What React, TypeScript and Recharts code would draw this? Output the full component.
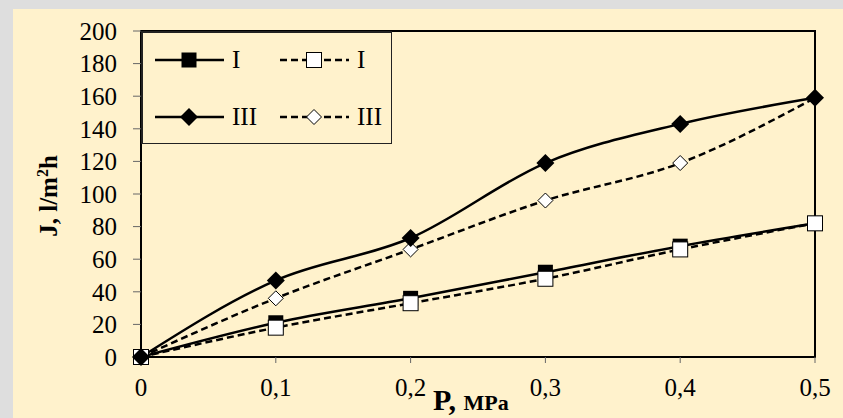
import {
  Legend,
  Line,
  LineChart,
  ReferenceArea,
  XAxis,
  YAxis,
} from "recharts";

const pressure = [0, 0.1, 0.2, 0.3, 0.4, 0.5];
const fluxISolid = [0, 21, 36, 52, 68, 82];
const fluxIDashed = [0, 18, 33, 48, 66, 82];
const fluxIIISolid = [0, 47, 73, 119, 143, 159];
const fluxIIIDashed = [0, 36, 66, 96, 119, 159];
const yTicks = [0, 20, 40, 60, 80, 100, 120, 140, 160, 180, 200];

const data = pressure.map((p, i) => ({
  p,
  i1: fluxISolid[i],
  i2: fluxIDashed[i],
  iii1: fluxIIISolid[i],
  iii2: fluxIIIDashed[i],
}));

const FONT = "'Liberation Serif', 'Times New Roman', serif";
const CREAM = "#FFF2CC";

type Shape = "sq" | "sqo" | "dm" | "dmo";

function Marker({ cx, cy, shape }: { cx: number; cy: number; shape: Shape }) {
  if (cx == null || cy == null) return null;
  if (shape === "sq") return <rect x={cx - 7.5} y={cy - 7.5} width={15} height={15} fill="#000" />;
  if (shape === "sqo")
    return <rect x={cx - 7.5} y={cy - 7.5} width={15} height={15} fill="#fff" stroke="#000" strokeWidth={1} />;
  if (shape === "dm") {
    const r = 9;
    return <polygon points={`${cx},${cy - r} ${cx + r},${cy} ${cx},${cy + r} ${cx - r},${cy}`} fill="#000" />;
  }
  const r = 7.5;
  return (
    <polygon
      points={`${cx},${cy - r} ${cx + r},${cy} ${cx},${cy + r} ${cx - r},${cy}`}
      fill="#fff"
      stroke="#000"
      strokeWidth={1}
    />
  );
}

const dot = (shape: Shape) => (props: any) => <Marker key={props.index} cx={props.cx} cy={props.cy} shape={shape} />;

const legendItems: { name: string; shape: Shape; dash?: string }[] = [
  { name: "I", shape: "sq" },
  { name: "I", shape: "sqo", dash: "7 4" },
  { name: "III", shape: "dm" },
  { name: "III", shape: "dmo", dash: "7 4" },
];

function LegendBox() {
  return (
    <div
      style={{
        width: 251,
        height: 113,
        boxSizing: "border-box",
        background: CREAM,
        borderStyle: "solid",
        borderColor: "#222",
        borderWidth: "2px 1px 1px 2px",
      }}
    >
      <svg width={249} height={111} style={{ display: "block" }}>
        {legendItems.map((it, i) => {
          const col = i % 2;
          const row = Math.floor(i / 2);
          const x0 = 12 + col * 125;
          const y = 27 + row * 57;
          return (
            <g key={i}>
              <line x1={x0} x2={x0 + 69} y1={y} y2={y} stroke="#000" strokeWidth={2.5} strokeDasharray={it.dash} />
              <Marker cx={x0 + 34} cy={y} shape={it.shape} />
              <text x={x0 + 77} y={y + 8} fontFamily={FONT} fontSize={25} fill="#000">
                {it.name}
              </text>
            </g>
          );
        })}
      </svg>
    </div>
  );
}

export default function App() {
  return (
    <div style={{ position: "absolute", left: 0, top: 0, width: 843, height: 418, background: "#DEDEDE" }}>
      <div style={{ position: "absolute", left: 13, top: 9, right: 0, bottom: 0, background: CREAM }} />
      <div style={{ position: "absolute", left: 0, top: 0 }}>
        <LineChart width={843} height={418} data={data} margin={{ top: 31, right: 28, bottom: 31, left: 81 }}>
          <ReferenceArea x1={0} x2={0.5} y1={0} y2={200} fill="none" stroke="#000" strokeWidth={2} />
          <XAxis
            dataKey="p"
            type="number"
            domain={[0, 0.5]}
            ticks={pressure}
            interval={0}
            height={30}
            tickFormatter={(v: number) => String(v).replace(".", ",")}
            tick={{ fill: "#000", fontSize: 25, fontFamily: FONT }}
            tickSize={6}
            tickMargin={15}
            tickLine={{ stroke: "#666" }}
            axisLine={{ stroke: "#000", strokeWidth: 2 }}
            label={{
              content: () => (
                <text x={433} y={410} textAnchor="start" fontFamily={FONT} fontWeight="bold" fill="#000">
                  <tspan fontSize={30}>P, </tspan>
                  <tspan fontSize={22}>MPa</tspan>
                </text>
              ),
            }}
          />
          <YAxis
            type="number"
            domain={[0, 200]}
            ticks={yTicks}
            interval={0}
            width={60}
            tick={{ fill: "#000", fontSize: 25, fontFamily: FONT }}
            tickSize={8}
            tickMargin={16}
            tickLine={{ stroke: "#666" }}
            axisLine={{ stroke: "#000", strokeWidth: 2 }}
            label={{
              content: (props: any) => {
                const vb = props.viewBox;
                const cx = 57;
                const cy = vb.y + vb.height / 2 + 2;
                return (
                  <text
                    x={cx}
                    y={cy}
                    transform={`rotate(-90, ${cx}, ${cy})`}
                    textAnchor="middle"
                    fontFamily={FONT}
                    fontWeight="bold"
                    fontSize={25}
                    fill="#000"
                  >
                    J, l/m
                    <tspan fontSize={16} dy={-9}>
                      2
                    </tspan>
                    <tspan dy={9}>h</tspan>
                  </text>
                );
              },
            }}
          />
          <Legend
            layout="horizontal"
            verticalAlign="middle"
            align="center"
            wrapperStyle={{ left: 141, top: 31, width: 251, height: 113 }}
            content={() => <LegendBox />}
          />
          <Line
            type="monotone"
            dataKey="i1"
            name="I"
            stroke="#000"
            strokeWidth={2.5}
            dot={dot("sq")}
            activeDot={false}
            isAnimationActive={false}
          />
          <Line
            type="monotone"
            dataKey="i2"
            name="I"
            stroke="#000"
            strokeWidth={2.5}
            strokeDasharray="7 4"
            dot={dot("sqo")}
            activeDot={false}
            isAnimationActive={false}
          />
          <Line
            type="monotone"
            dataKey="iii2"
            name="III"
            stroke="#000"
            strokeWidth={2.5}
            strokeDasharray="7 4"
            dot={dot("dmo")}
            activeDot={false}
            isAnimationActive={false}
          />
          <Line
            type="monotone"
            dataKey="iii1"
            name="III"
            stroke="#000"
            strokeWidth={2.5}
            dot={dot("dm")}
            activeDot={false}
            isAnimationActive={false}
          />
        </LineChart>
      </div>
    </div>
  );
}
